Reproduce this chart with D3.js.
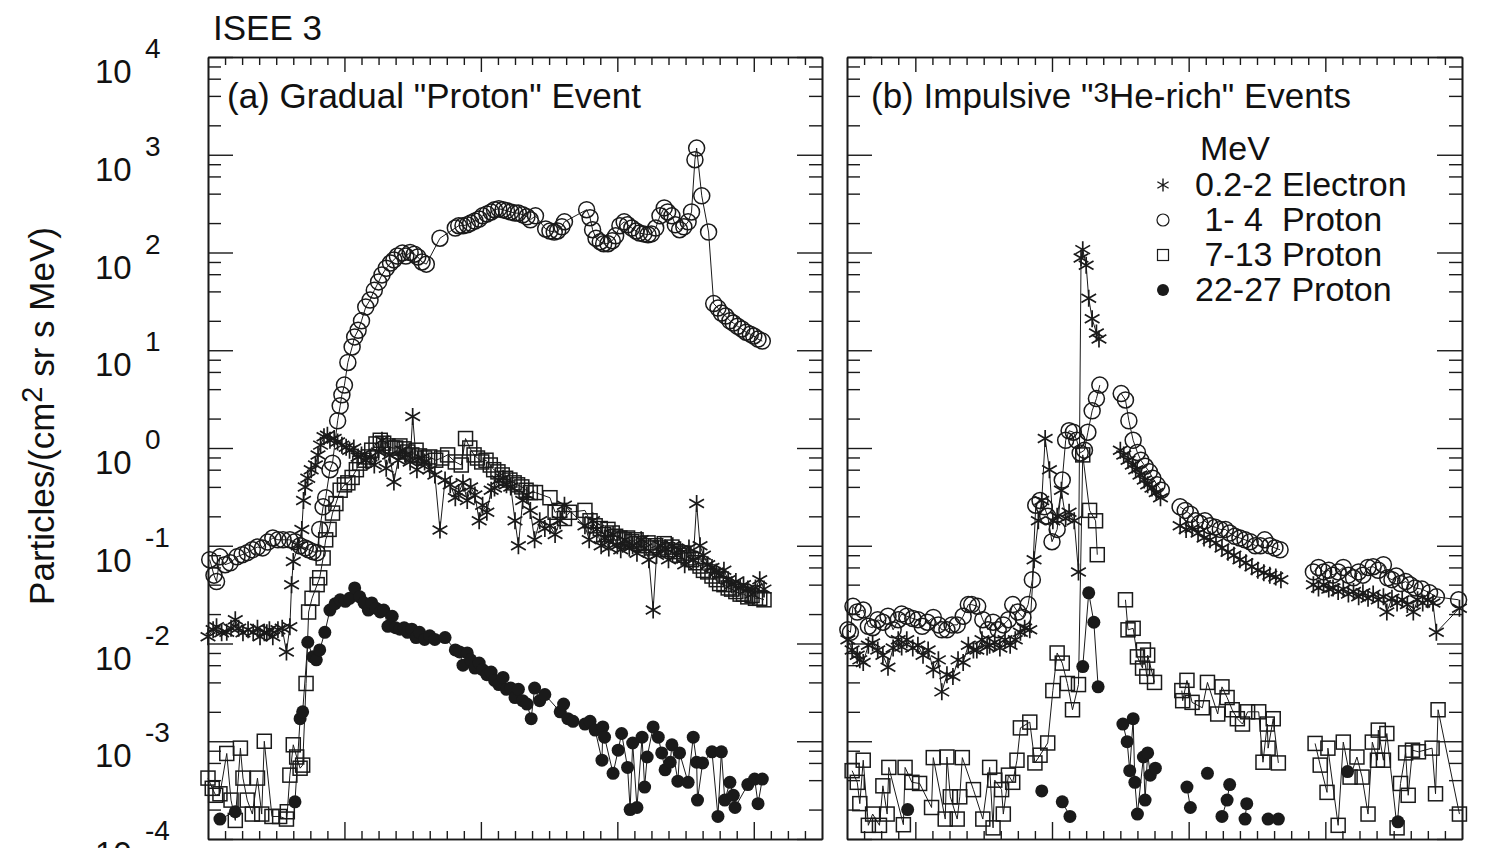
<!DOCTYPE html>
<html><head><meta charset="utf-8">
<script src="https://cdn.jsdelivr.net/npm/d3@7"></script>
<style>
body{margin:0;background:#fff}
svg{display:block}
text{font-family:"Liberation Sans",Arial,Helvetica,sans-serif;fill:#111}
</style>
</head><body>
<svg id="chart" width="1486" height="848"></svg>
<script>
// ---------- data ----------
const yDecades = [-4,-3,-2,-1,0,1,2,3,4];
const yMinorMantissas = [2,4,6,8];
const xMajorA = [8,16,24,32];
const xMajorB = [4,12,20,28];
const xUnits = [0,36];
const legendLabels = ["0.2-2 Electron"," 1- 4  Proton"," 7-13 Proton","22-27 Proton"];

// Panel (a) gradual event: [time, flux]; null = data gap
const aElectron = [[0,0.0117],[0.3,0.0138],[0.5,0.0148],[0.8,0.0129],[1.1,0.013],[1.35,0.0143],[1.6,0.0175],[1.8,0.0143],[2.05,0.0129],[2.35,0.0138],[2.65,0.013],[2.9,0.0143],[3.05,0.0117],[3.3,0.0129],[3.45,0.0129],[3.6,0.0138],[3.8,0.0117],[4.1,0.0138],[4.35,0.0143],[4.6,0.0082],[4.8,0.0148],[4.9,0.04],[5.0,0.069],[5.3,0.1],[5.5,0.147],[5.6,0.29],[5.7,0.4],[5.85,0.49],[6.05,0.6],[6.3,0.67],[6.45,0.85],[6.6,1.07],[6.8,1.3],[7.0,1.35],[7.15,1.2],[7.4,1.25],[7.6,1.15],[7.85,1.07],[8.1,1.02],[8.3,0.95],[8.55,1.0],[8.8,0.81],[9.0,0.85],[9.25,0.75],[9.5,0.81],[9.75,0.67],[10.0,0.91],[10.2,1.2],[10.45,0.62],[10.65,0.85],[10.9,0.45],[11.15,0.75],[11.4,0.95],[11.6,0.85],[11.85,0.72],[12.0,2.1],[12.25,0.6],[12.5,0.79],[12.7,0.72],[13.0,0.6],[13.3,0.53],[13.6,0.145],[13.9,0.47],[14.2,0.42],[14.5,0.31],[14.7,0.35],[14.95,0.44],[15.2,0.29],[15.4,0.4],[15.65,0.33],[15.9,0.18],[16.1,0.26],[16.35,0.22],[16.6,0.37],[16.8,0.39],[17.05,0.47],[17.3,0.49],[17.5,0.42],[17.75,0.4],[18.0,0.18],[18.2,0.1],[18.45,0.29],[18.7,0.33],[18.9,0.23],[19.15,0.115],[19.45,0.18],[19.75,0.15],[20.05,0.16],[20.35,0.13],[20.65,0.18],[20.9,0.26],[22.1,0.16],[22.35,0.115],[22.55,0.18],[22.8,0.147],[23.05,0.1],[23.25,0.12],[23.5,0.095],[23.75,0.13],[24.0,0.1],[24.2,0.091],[24.45,0.115],[24.7,0.095],[24.9,0.1],[25.15,0.084],[25.4,0.115],[25.6,0.095],[25.85,0.072],[26.1,0.022],[26.3,0.08],[26.55,0.1],[26.8,0.095],[27.0,0.072],[27.25,0.1],[27.5,0.08],[27.7,0.091],[27.95,0.064],[28.2,0.095],[28.45,0.072],[28.65,0.27],[28.85,0.1],[29.05,0.08],[29.3,0.064],[29.55,0.06],[29.8,0.054],[30.0,0.05],[30.25,0.056],[30.5,0.045],[30.7,0.04],[30.95,0.043],[31.2,0.037],[31.4,0.04],[31.65,0.036],[31.9,0.032],[32.1,0.037],[32.35,0.045],[32.6,0.036]];

const aProton1_4 = [[0.1,0.072],[0.35,0.05],[0.5,0.043],[0.7,0.077],[1.0,0.064],[1.3,0.067],[1.7,0.077],[2.0,0.081],[2.3,0.085],[2.6,0.091],[2.9,0.097],[3.2,0.095],[3.5,0.109],[3.8,0.12],[4.1,0.115],[4.4,0.115],[4.8,0.115],[5.1,0.11],[5.4,0.1],[5.7,0.095],[5.9,0.091],[6.15,0.087],[6.4,0.085],[6.55,0.147],[6.75,0.25],[6.9,0.31],[7.15,0.6],[7.3,0.7],[7.6,1.9],[7.75,2.7],[7.85,3.5],[8.0,4.4],[8.2,7.5],[8.45,10.8],[8.6,13.7],[8.8,16],[9.0,20],[9.25,27.7],[9.5,32.6],[9.75,41],[10.0,50],[10.2,59],[10.45,69],[10.7,78],[10.9,84],[11.1,92],[11.4,99],[11.6,92],[11.85,100],[12.1,96],[12.3,90],[12.55,80],[12.8,76],[13.6,140],[14.5,178],[14.7,188],[14.95,188],[15.2,192],[15.4,200],[15.65,210],[15.9,220],[16.1,237],[16.35,248],[16.6,260],[16.8,274],[17.05,280],[17.3,274],[17.5,268],[17.75,260],[18.0,253],[18.2,253],[18.45,243],[18.7,232],[18.9,216],[19.2,237],[19.8,174],[20.05,166],[20.3,162],[20.5,166],[20.75,183],[20.9,206],[22.2,274],[22.4,227],[22.55,171],[22.75,140],[23.0,129],[23.2,123],[23.45,123],[23.7,132],[23.9,148],[24.15,188],[24.4,206],[24.6,192],[24.85,178],[25.1,166],[25.3,158],[25.55,155],[25.8,152],[26.0,155],[26.25,178],[26.5,237],[26.75,286],[26.95,260],[27.2,237],[27.4,192],[27.65,171],[27.9,183],[28.15,206],[28.35,260],[28.55,889],[28.65,1170],[28.95,380],[29.35,162],[29.65,30],[29.9,27],[30.1,24],[30.35,22.4],[30.6,20],[30.8,19],[31.05,17.6],[31.3,16.5],[31.55,15.3],[31.8,14.6],[32.0,14],[32.25,13],[32.5,12.4]];

const aProton7_13 = [[0,0.00042],[0.25,0.00033],[0.45,0.00028],[0.7,0.00029],[1.1,0.00075],[1.35,0.00025],[1.6,0.000155],[1.9,0.00085],[2.05,0.00042],[2.3,0.00025],[2.6,0.00018],[2.9,0.00042],[3.15,0.00018],[3.3,0.001],[3.75,0.00017],[4.2,0.00017],[4.6,0.00016],[4.65,0.00019],[4.8,0.00045],[5.0,0.00092],[5.2,0.00069],[5.4,0.00053],[5.55,0.00057],[5.75,0.0039],[5.9,0.021],[6.1,0.029],[6.4,0.04],[6.55,0.047],[6.75,0.075],[6.9,0.115],[7.1,0.147],[7.3,0.216],[7.5,0.27],[7.75,0.37],[8.0,0.42],[8.2,0.44],[8.45,0.5],[8.7,0.6],[8.9,0.7],[9.15,0.75],[9.4,0.81],[9.6,0.95],[9.85,1.1],[10.1,1.2],[10.3,1.12],[10.55,1.05],[10.8,1.0],[11.0,1.0],[11.25,1.05],[11.5,0.98],[11.7,0.91],[11.95,0.85],[12.2,0.95],[12.4,0.83],[12.7,0.79],[13.0,0.81],[13.35,0.75],[13.7,0.79],[14.05,0.85],[14.5,0.72],[14.85,0.67],[15.1,1.25],[15.35,1.0],[15.6,0.85],[15.8,0.79],[16.05,0.72],[16.3,0.75],[16.55,0.67],[16.75,0.6],[17.0,0.57],[17.25,0.53],[17.45,0.49],[17.7,0.47],[17.95,0.44],[18.15,0.42],[18.4,0.4],[18.65,0.37],[18.9,0.35],[19.2,0.35],[20.05,0.31],[20.35,0.22],[20.6,0.23],[20.9,0.19],[21.2,0.22],[22.1,0.23],[22.4,0.18],[22.7,0.16],[23.0,0.15],[23.2,0.13],[23.45,0.147],[23.7,0.135],[23.9,0.125],[24.15,0.12],[24.4,0.115],[24.6,0.12],[24.85,0.11],[25.1,0.115],[25.3,0.105],[25.55,0.1],[25.8,0.107],[26.0,0.095],[26.25,0.1],[26.5,0.095],[26.75,0.105],[26.95,0.091],[27.2,0.097],[27.4,0.087],[27.65,0.08],[27.9,0.084],[28.15,0.075],[28.35,0.072],[28.6,0.067],[28.85,0.062],[29.05,0.056],[29.3,0.054],[29.55,0.049],[29.8,0.045],[30.0,0.041],[30.25,0.04],[30.5,0.037],[30.7,0.036],[30.95,0.034],[31.2,0.032],[31.4,0.032],[31.65,0.03],[31.9,0.031],[32.1,0.029],[32.35,0.029],[32.6,0.028]];

const aProton22_27 = [[0.7,0.00016],[1.6,0.00019],null,[5.1,0.00024],[5.4,0.0017],[5.55,0.002],[5.85,0.0103],[6.15,0.0073],[6.35,0.0068],[6.55,0.0086],[6.85,0.013],[7.15,0.022],[7.45,0.0255],[7.75,0.028],[8.05,0.027],[8.3,0.029],[8.6,0.037],[8.9,0.03],[9.15,0.026],[9.4,0.022],[9.6,0.026],[9.85,0.023],[10.1,0.021],[10.3,0.022],[10.55,0.015],[10.8,0.019],[11.0,0.0145],[11.25,0.014],[11.5,0.0145],[11.7,0.013],[11.95,0.014],[12.2,0.0115],[12.4,0.013],[12.7,0.011],[13.0,0.012],[13.3,0.011],[13.9,0.0115],[14.5,0.0086],[14.75,0.0082],[14.95,0.006],[15.2,0.008],[15.4,0.0068],[15.65,0.0056],[15.9,0.0063],[16.1,0.0054],[16.35,0.0048],[16.6,0.0051],[16.8,0.0042],[17.05,0.0038],[17.3,0.0045],[17.5,0.0034],[17.75,0.0035],[18.0,0.0028],[18.2,0.0034],[18.45,0.0026],[18.7,0.0024],[18.95,0.0017],[19.15,0.0035],[19.45,0.0026],[19.75,0.003],[20.65,0.002],[20.85,0.0024],[21.1,0.0017],[21.4,0.0016],[22.1,0.0015],[22.4,0.0016],[22.7,0.0013],[23.1,0.00064],[23.15,0.0014],[23.25,0.0011],[23.75,0.00047],[24.05,0.00081],[24.25,0.0012],[24.6,0.00054],[24.75,0.0002],[24.9,0.00096],[25.15,0.00021],[25.45,0.0011],[25.6,0.00034],[25.75,0.00069],[26.1,0.0014],[26.4,0.0011],[26.6,0.00076],[26.8,0.00051],[27.1,0.00061],[27.2,0.00092],[27.55,0.00039],[27.65,0.00076],[28.15,0.00038],[28.45,0.0011],[28.65,0.00061],[28.7,0.00025],[29.0,0.0006],[29.55,0.00078],[29.9,0.00017],[30.1,0.00078],[30.3,0.00025],[30.6,0.00038],[30.8,0.00028],[30.9,0.00021],[31.65,0.00036],[32.05,0.00041],[32.25,0.00023],[32.5,0.00041]];

// Panel (b) impulsive events
const bElectron = [[0.05,0.0109],[0.3,0.0086],[0.6,0.0076],[0.75,0.0068],[0.95,0.0064],[1.25,0.0096],[1.5,0.0101],[1.8,0.0086],[2.1,0.0076],[2.4,0.0057],[2.7,0.009],[3.0,0.0109],[3.2,0.0092],[3.5,0.0109],[3.85,0.009],[4.15,0.0096],[4.45,0.0076],[4.75,0.0086],[5.05,0.0054],[5.35,0.0068],[5.55,0.0032],[5.85,0.0048],[6.2,0.0046],[6.5,0.0068],[6.8,0.0064],[7.1,0.0096],[7.4,0.0086],[7.6,0.0086],[7.9,0.0109],[8.2,0.0092],[8.35,0.0096],[8.65,0.0103],[8.95,0.009],[9.25,0.0109],[9.55,0.0096],[9.85,0.0109],[10.15,0.013],[10.4,0.0143],[10.7,0.0138],[10.95,0.072],[11.2,0.18],[11.4,0.29],[11.6,1.25],[11.85,0.6],[12.05,0.18],[12.3,0.2],[12.55,0.37],[12.8,0.19],[13.0,0.22],[13.3,0.18],[13.55,0.054],[13.7,88],[13.8,107],[14.0,74],[14.15,34],[14.35,21],[14.6,15],[14.75,13],null,[16.0,0.95],[16.2,0.85],[16.45,0.75],[16.7,0.67],[16.9,0.6],[17.15,0.53],[17.4,0.47],[17.6,0.42],[17.85,0.39],[18.1,0.35],[18.35,0.31],null,[19.5,0.16],[19.85,0.147],[20.2,0.15],[20.55,0.135],[20.9,0.12],[21.25,0.115],[21.6,0.107],[21.95,0.095],[22.3,0.086],[22.65,0.08],[23.0,0.072],[23.35,0.067],[23.7,0.061],[24.05,0.056],[24.4,0.053],[24.75,0.05],[25.1,0.048],[25.4,0.045],null,[27.3,0.04],[27.6,0.037],[27.9,0.04],[28.2,0.036],[28.45,0.037],[28.75,0.034],[29.05,0.036],[29.35,0.032],[29.65,0.034],[29.95,0.03],[30.2,0.033],[30.5,0.029],[30.8,0.032],[31.1,0.028],[31.4,0.03],[31.6,0.021],[31.9,0.029],[32.2,0.026],[32.5,0.028],[32.8,0.025],[33.15,0.021],[33.4,0.028],[33.7,0.026],[34.0,0.028],[34.3,0.026],[34.5,0.013],[35.85,0.023]];

const bProton1_4 = [[0.05,0.0138],[0.2,0.013],[0.35,0.024],[0.6,0.021],[0.95,0.022],[1.25,0.015],[1.5,0.0145],[1.8,0.0175],[2.1,0.0165],[2.4,0.019],[2.7,0.0138],[3.0,0.0175],[3.2,0.02],[3.5,0.019],[3.85,0.018],[4.15,0.0175],[4.4,0.015],[4.7,0.0165],[5.05,0.0185],[5.35,0.0155],[5.55,0.0138],[5.85,0.0138],[6.15,0.0155],[6.45,0.0155],[6.8,0.019],[7.1,0.025],[7.3,0.025],[7.65,0.024],[7.95,0.0175],[8.25,0.0138],[8.55,0.0165],[8.85,0.0138],[9.15,0.0155],[9.45,0.0175],[9.7,0.025],[10.0,0.021],[10.3,0.0185],[10.6,0.025],[10.85,0.045],[11.05,0.26],[11.3,0.29],[11.55,0.25],[11.75,0.2],[12.0,0.11],[12.3,0.147],[12.6,0.47],[12.8,1.2],[13.0,1.5],[13.25,1.45],[13.45,1.2],[13.65,0.89],[13.9,0.95],[14.1,1.45],[14.35,2.4],[14.6,3.2],[14.8,4.4],null,[16.05,3.6],[16.3,3.1],[16.5,1.9],[16.75,1.2],[17.0,0.9],[17.2,0.75],[17.45,0.65],[17.7,0.57],[17.9,0.49],[18.15,0.42],[18.4,0.37],null,[19.5,0.25],[19.8,0.23],[20.1,0.21],[20.4,0.18],[20.65,0.17],[20.95,0.18],[21.25,0.16],[21.55,0.155],[21.85,0.147],[22.15,0.147],[22.4,0.135],[22.7,0.125],[23.0,0.12],[23.3,0.115],[23.6,0.11],[23.9,0.1],[24.2,0.1],[24.45,0.115],[24.75,0.1],[25.05,0.095],[25.35,0.091],null,[27.3,0.054],[27.6,0.06],[27.9,0.054],[28.2,0.056],[28.45,0.05],[28.75,0.054],[29.05,0.06],[29.35,0.05],[29.65,0.047],[29.95,0.054],[30.2,0.05],[30.5,0.06],[30.8,0.061],[31.1,0.056],[31.4,0.064],[31.65,0.047],[31.9,0.045],[32.15,0.049],[32.4,0.041],[32.7,0.043],[32.95,0.04],[33.25,0.037],[33.65,0.036],[34.1,0.033],[34.5,0.03],[35.8,0.028]];

const bProton7_13 = [[0.3,0.0005],[0.6,0.00038],[0.75,0.00023],[0.95,0.00064],[1.25,0.000138],[1.5,0.00018],[1.9,0.000138],[2.1,0.00035],[2.35,0.00018],[2.45,0.00054],[3.3,0.00014],[3.4,0.00054],[3.8,0.00038],[4.25,0.00037],[4.95,0.00021],[5.05,0.00068],[5.75,0.00016],[5.85,0.00069],[6.05,0.00027],[6.45,0.00016],[6.6,0.00027],[6.75,0.00068],[7.4,0.00032],[7.95,0.00016],[8.35,0.00054],[8.55,0.00013],[8.65,0.0004],[9.05,0.00032],[9.15,0.00018],[9.45,0.00045],[9.7,0.00038],[9.95,0.00064],[10.15,0.00137],[10.7,0.00157],[11.0,0.0006],[11.3,0.00072],[11.75,0.00096],[12.05,0.0033],[12.3,0.008],[12.6,0.0063],[12.9,0.0039],[13.2,0.0021],[13.55,0.0038],[13.8,0.85],[14.2,0.23],[14.55,0.18],[14.65,0.081],null,[16.3,0.028],[16.45,0.0138],[16.75,0.0143],[17.0,0.0073],[17.3,0.0056],[17.35,0.0086],[17.55,0.0046],[17.6,0.0076],[18.0,0.004],null,[19.6,0.0033],[19.65,0.0026],[19.9,0.0042],[20.2,0.0025],[20.8,0.0022],[21.1,0.004],[21.7,0.0019],[21.95,0.0036],[22.25,0.0028],[22.55,0.0021],[22.85,0.0017],[23.15,0.0015],[23.45,0.002],[24.1,0.002],[24.35,0.00061],[24.6,0.0015],[24.65,0.00085],[24.95,0.0017],[25.25,0.0006],null,[27.4,0.00095],[27.7,0.00057],[28.1,0.0003],[28.15,0.00085],[28.75,0.000138],[29.05,0.00098],[29.45,0.00043],[29.85,0.00069],[30.15,0.00043],[30.5,0.00018],[30.75,0.00098],[31.05,0.00064],[31.1,0.0013],[31.4,0.00064],[31.6,0.0012],[32.2,0.00013],[32.4,0.00037],[32.7,0.00076],[32.85,0.00028],[33.1,0.00081],[33.45,0.00078],[34.25,0.00085],[34.45,0.00029],[34.6,0.0021],[35.85,0.00018]];

const bProton22_27 = [[3.55,0.0002],null,[11.4,0.00031],null,[12.6,0.00024],[13.05,0.00017],null,[13.8,0.0058],[14.15,0.033],[14.45,0.0165],[14.7,0.0036],null,[16.15,0.0015],[16.4,0.00099],[16.55,0.0005],[16.75,0.0017],[16.85,0.00038],[17.0,0.00018],[17.35,0.00069],[17.45,0.00025],[17.6,0.00076],[17.75,0.00045],[18.05,0.00053],null,[19.9,0.00034],[20.1,0.00021],null,[21.1,0.00047],null,[21.95,0.00017],[22.25,0.00025],[22.4,0.00036],null,[23.3,0.00016],[23.4,0.00023],null,[24.65,0.00016],[25.25,0.00016],null,[29.3,0.00049],null,[32.25,0.00015]];

// ---------- layout ----------
const svg = d3.select("#chart");
const INK = "#1a1a1a";
const y = d3.scaleLog().domain([1e-4,1e4]).range([839,57]);
const yMajor = yDecades.map(d => Math.pow(10,d));
const yMinor = [];
yDecades.slice(0,-1).forEach(d => yMinorMantissas.forEach(m => yMinor.push(m*Math.pow(10,d))));

const panels = [
  {x0:208, x1:822, majors:xMajorA, series:[aElectron,aProton1_4,aProton7_13,aProton22_27]},
  {x0:847, x1:1462, majors:xMajorB, series:[bElectron,bProton1_4,bProton7_13,bProton22_27]}
];

function starPath(r){
  let p="";
  for(let k=0;k<3;k++){
    const a=Math.PI/2+k*Math.PI/3, dx=r*Math.cos(a), dy=r*Math.sin(a);
    p+=`M${(-dx).toFixed(2)},${(-dy).toFixed(2)}L${dx.toFixed(2)},${dy.toFixed(2)}`;
  }
  return p;
}
const markers = [
  (g,s)=>g.append("path").attr("d",starPath(s.star)).attr("stroke",INK).attr("stroke-width",s.sw+0.2).attr("fill","none"),
  (g,s)=>g.append("circle").attr("r",s.circ).attr("stroke",INK).attr("stroke-width",s.sw).attr("fill","none"),
  (g,s)=>g.append("rect").attr("x",-s.sq/2).attr("y",-s.sq/2).attr("width",s.sq).attr("height",s.sq).attr("stroke",INK).attr("stroke-width",s.sw).attr("fill","none"),
  (g,s)=>g.append("circle").attr("r",s.dot).attr("fill",INK)
];
const plotSizes = {star:8.5, circ:8, sq:14, dot:6.5, sw:1.5};
const legendSizes = {star:6.5, circ:6, sq:11, dot:6, sw:1.2};

function styleAxis(sel){
  sel.selectAll(".domain").attr("stroke",INK).attr("stroke-width",1.6);
  sel.selectAll(".tick line").attr("stroke",INK).attr("stroke-width",1.4);
}

panels.forEach(p => {
  const x = d3.scaleLinear().domain(xUnits).range([p.x0,p.x1]);
  const g = svg.append("g");
  const xMinor = d3.range(xUnits[0]+1, xUnits[1]).filter(v => !p.majors.includes(v));
  [[d3.axisLeft, p.x0],[d3.axisRight, p.x1]].forEach(([fn,xp]) => {
    g.append("g").attr("transform",`translate(${xp},0)`)
      .call(fn(y).tickValues(yMajor).tickSize(-25).tickSizeOuter(0).tickFormat("")).call(styleAxis);
    g.append("g").attr("transform",`translate(${xp},0)`)
      .call(fn(y).tickValues(yMinor).tickSize(-13).tickSizeOuter(0).tickFormat("")).call(styleAxis);
  });
  [[d3.axisBottom, 839, 17],[d3.axisTop, 57, 15]].forEach(([fn,yp,len]) => {
    g.append("g").attr("transform",`translate(0,${yp})`)
      .call(fn(x).tickValues(p.majors).tickSize(-len).tickSizeOuter(0).tickFormat("")).call(styleAxis);
    g.append("g").attr("transform",`translate(0,${yp})`)
      .call(fn(x).tickValues(xMinor).tickSize(-8).tickSizeOuter(0).tickFormat("")).call(styleAxis);
  });
  const line = d3.line().defined(d => d !== null).x(d => x(d[0])).y(d => y(d[1]));
  p.series.forEach(data => {
    g.append("path").datum(data).attr("d",line).attr("fill","none").attr("stroke",INK).attr("stroke-width",1);
  });
  p.series.forEach((data,i) => {
    data.filter(d => d !== null).forEach(d => {
      const m = g.append("g").attr("transform",`translate(${x(d[0]).toFixed(2)},${y(d[1]).toFixed(2)})`);
      markers[i](m, plotSizes);
    });
  });
});

// y tick labels: 10^n
yDecades.forEach(d => {
  const yy = y(Math.pow(10,d));
  svg.append("text").attr("x",95).attr("y",yy+26).attr("font-size",33).text("10");
  svg.append("text").attr("x",145).attr("y",yy+1).attr("font-size",28).text(String(d));
});

// y axis title
const yt = svg.append("text").attr("transform","translate(54,416) rotate(-90)")
  .attr("text-anchor","middle").attr("font-size",35);
yt.append("tspan").text("Particles/(cm");
yt.append("tspan").attr("dy",-12).attr("font-size",29).text("2");
yt.append("tspan").attr("dy",12).text(" sr s MeV)");

// titles
svg.append("text").attr("x",213).attr("y",40).attr("font-size",35).text("ISEE 3");
svg.append("text").attr("x",227).attr("y",108).attr("font-size",35).text('(a) Gradual "Proton" Event');
const tb = svg.append("text").attr("x",871).attr("y",108).attr("font-size",35);
tb.append("tspan").text('(b) Impulsive "');
tb.append("tspan").attr("dy",-6).attr("font-size",28).text("3");
tb.append("tspan").attr("dy",6).text('He-rich" Events');

// legend
svg.append("text").attr("x",1200).attr("y",160).attr("font-size",34).text("MeV");
legendLabels.forEach((lab,i) => {
  const yy = 185 + i*35;
  const m = svg.append("g").attr("transform",`translate(1163,${yy})`);
  markers[i](m, legendSizes);
  svg.append("text").attr("x",1195).attr("y",yy+11).attr("font-size",34)
    .attr("xml:space","preserve").style("white-space","pre").text(lab);
});
</script>
</body></html>
